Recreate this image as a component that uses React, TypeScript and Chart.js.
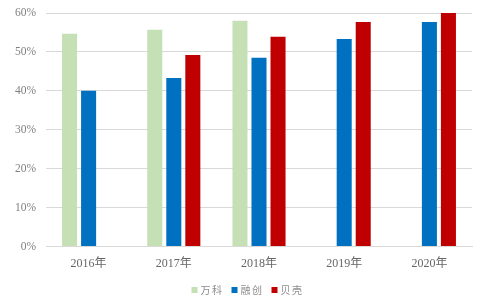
import React, { useEffect, useRef } from "react";
import { Chart, registerables } from "chart.js";

Chart.register(...registerables);

const categories = ["2016年", "2017年", "2018年", "2019年", "2020年"];
const vanke = [54.7, 55.7, 58.0, null, null];
const sunac = [40.0, 43.3, 48.5, 53.3, 57.7];
const beike = [null, 49.2, 53.9, 57.7, 60.0];
const seriesNames = ["万科", "融创", "贝壳"];
const yTicks = [0, 10, 20, 30, 40, 50, 60];

const legendPlugin = {
  id: "customLegend",
  afterDraw(chart: any) {
    const ctx = chart.ctx as CanvasRenderingContext2D;
    ctx.save();
    ctx.font = "10px 'Noto Sans CJK SC', sans-serif";
    (ctx as any).letterSpacing = "1.5px";
    ctx.textBaseline = "middle";
    ctx.textAlign = "left";
    const ds = chart.data.datasets;
    const box = 6;
    const gapText = 3;
    const gapItem = 8;
    const widths = ds.map((d: any) => box + gapText + ctx.measureText(d.label).width);
    const total = widths.reduce((a: number, b: number) => a + b, 0) + gapItem * (ds.length - 1);
    let x = 247.5 - total / 2;
    const y = 290;
    ds.forEach((d: any, i: number) => {
      ctx.fillStyle = d.backgroundColor;
      ctx.fillRect(x, y - box / 2, box, box);
      ctx.fillStyle = "#8c8c8c";
      ctx.fillText(d.label, x + box + gapText, y);
      x += widths[i] + gapItem;
    });
    ctx.restore();
  },
};

export default function App() {
  const ref = useRef<HTMLCanvasElement | null>(null);
  useEffect(() => {
    if (!ref.current) return;
    const serif = "'Liberation Serif', 'Times New Roman', 'Noto Sans CJK SC', serif";
    const chart = new Chart(ref.current, {
      type: "bar",
      data: {
        labels: categories,
        datasets: [
          { label: seriesNames[0], data: vanke, backgroundColor: "#C5E0B4" },
          { label: seriesNames[1], data: sunac, backgroundColor: "#0070C0" },
          { label: seriesNames[2], data: beike, backgroundColor: "#C00000" },
        ],
      },
      plugins: [legendPlugin],
      options: {
        animation: false,
        responsive: false,
        maintainAspectRatio: false,
        layout: { padding: { top: 13, right: 14, left: 0, bottom: 27 } },
        datasets: { bar: { categoryPercentage: 0.67, barPercentage: 0.79 } },
        plugins: {
          tooltip: { enabled: false },
          legend: { display: false },
        },
        scales: {
          x: {
            afterFit: (s: any) => {
              s.height = 28.5;
            },
            grid: { display: false, drawTicks: false },
            border: { display: true, color: "#d9d9d9" },
            ticks: {
              color: "#666",
              padding: 10.5,
              font: { size: 12, family: serif },
            },
          },
          y: {
            min: 0,
            max: 60,
            afterFit: (s: any) => {
              s.width = 46;
              s.paddingTop = 0;
            },
            afterBuildTicks: (s: any) => {
              s.ticks = yTicks.map((v) => ({ value: v }));
            },
            grid: { color: "#d9d9d9", drawTicks: false },
            border: { display: false },
            ticks: {
              color: "#7f7f7f",
              padding: 10,
              font: { size: 11.5, family: serif },
              callback: (v: any) => v + "%",
            },
          },
        },
      },
    });
    return () => chart.destroy();
  }, []);
  return (
    <div style={{ position: "fixed", left: 0, top: 0, width: 486, height: 302, background: "#fff" }}>
      <canvas ref={ref} width={486} height={302} style={{ display: "block" }} />
    </div>
  );
}
